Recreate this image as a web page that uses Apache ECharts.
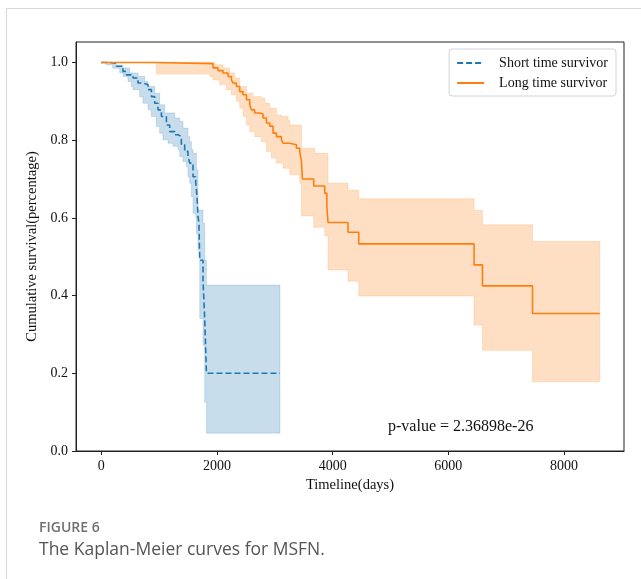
<!DOCTYPE html>
<html>
<head>
<meta charset="utf-8">
<script src="https://cdn.jsdelivr.net/npm/echarts@6/dist/echarts.min.js"></script>
<style>
html,body{margin:0;padding:0;background:#fff;}
#chart{width:641px;height:579px;}
</style>
</head>
<body>
<div id="chart"></div>
<script>
// ---- data ----
const xTicks = [0, 2000, 4000, 6000, 8000];
const yTicks = [0, 0.2, 0.4, 0.6, 0.8, 1.0];
const shortName = 'Short time survivor';
const longName = 'Long time survivor';
const pValueText = 'p-value = 2.36898e-26';
const xTitle = 'Timeline(days)';
const yTitle = 'Cumulative survival(percentage)';
const figLabel = 'FIGURE 6';
const figCaption = 'The Kaplan-Meier curves for MSFN.';

// Kaplan-Meier step points [time, survival] (value holds from time onward)
const shortSurvival = [[0,1.0],[147,0.998],[263,0.99],[377,0.977],[436,0.968],[550,0.96],[636,0.947],[723,0.943],[809,0.93],[868,0.912],[925,0.895],[982,0.878],[1041,0.861],[1127,0.839],[1184,0.822],[1271,0.814],[1328,0.809],[1386,0.788],[1443,0.771],[1500,0.758],[1530,0.741],[1587,0.706],[1634,0.689],[1646,0.672],[1656,0.655],[1673,0.603],[1690,0.587],[1703,0.491],[1760,0.44],[1789,0.34],[1800,0.29],[1819,0.2],[3090,0.2]];
const shortCiUpper = [[0,1.0],[260,0.993],[377,0.986],[493,0.973],[636,0.964],[752,0.951],[809,0.938],[925,0.921],[1011,0.891],[1098,0.87],[1271,0.857],[1357,0.848],[1414,0.831],[1500,0.809],[1530,0.796],[1559,0.775],[1587,0.766],[1646,0.723],[1673,0.62],[1760,0.586],[1789,0.491],[1819,0.427],[3090,0.427]];
const shortCiLower = [[0,1.0],[90,0.994],[200,0.985],[320,0.973],[377,0.964],[463,0.951],[522,0.938],[550,0.93],[665,0.912],[723,0.895],[809,0.878],[868,0.861],[954,0.835],[1011,0.818],[1068,0.801],[1155,0.792],[1241,0.784],[1328,0.775],[1357,0.758],[1414,0.745],[1473,0.732],[1500,0.706],[1530,0.689],[1559,0.655],[1587,0.612],[1634,0.603],[1646,0.56],[1673,0.517],[1703,0.341],[1760,0.272],[1789,0.126],[1819,0.046],[3090,0.046]];

const longSurvival = [[0,1.0],[954,0.997],[1933,0.986],[2019,0.979],[2105,0.973],[2192,0.964],[2251,0.955],[2278,0.947],[2337,0.938],[2394,0.925],[2451,0.917],[2510,0.904],[2567,0.891],[2596,0.878],[2653,0.87],[2740,0.867],[2797,0.857],[2856,0.844],[2913,0.836],[2970,0.818],[3028,0.809],[3115,0.801],[3143,0.792],[3258,0.788],[3374,0.779],[3431,0.771],[3461,0.745],[3470,0.72],[3478,0.70],[3673,0.682],[3863,0.663],[3900,0.63],[3920,0.588],[4266,0.563],[4451,0.533],[6444,0.479],[6589,0.425],[7454,0.354],[8617,0.354]];
const longCiUpper = [[0,1.0],[1962,0.994],[2105,0.986],[2221,0.973],[2308,0.96],[2394,0.938],[2510,0.921],[2624,0.912],[2769,0.908],[2826,0.895],[2913,0.882],[3028,0.865],[3115,0.861],[3229,0.852],[3258,0.839],[3461,0.779],[3690,0.766],[3920,0.689],[4266,0.671],[4451,0.649],[6444,0.619],[6589,0.582],[7454,0.539],[8617,0.539]];
const longCiLower = [[0,1.0],[954,0.97],[1876,0.964],[1933,0.955],[2048,0.943],[2164,0.93],[2251,0.917],[2337,0.9],[2394,0.882],[2451,0.861],[2510,0.839],[2567,0.822],[2653,0.809],[2769,0.796],[2856,0.771],[2942,0.754],[3028,0.741],[3143,0.728],[3258,0.711],[3431,0.689],[3461,0.605],[3673,0.576],[3863,0.554],[3920,0.466],[4266,0.437],[4451,0.399],[6444,0.324],[6589,0.259],[7454,0.178],[8617,0.178]];

// ---- helpers ----
function stepPath(pts) {
  const out = [];
  for (let i = 0; i < pts.length; i++) {
    out.push([pts[i][0], pts[i][1]]);
    if (i + 1 < pts.length) out.push([pts[i + 1][0], pts[i][1]]);
  }
  return out;
}
function bandSeries(upper, lower, fill, stroke) {
  const pathPts = stepPath(upper).concat(stepPath(lower).reverse());
  return {
    type: 'custom',
    coordinateSystem: 'cartesian2d',
    silent: true,
    z: 1,
    data: [[0, 0]],
    renderItem: function (params, api) {
      const pts = pathPts.map(p => api.coord(p));
      return {
        type: 'polygon',
        shape: { points: pts },
        style: { fill: fill, stroke: stroke, lineWidth: 1 }
      };
    }
  };
}

const SERIF = '"Liberation Serif", "DejaVu Serif", serif';
const chart = echarts.init(document.getElementById('chart'), null, { renderer: 'canvas' });

chart.setOption({
  animation: false,
  backgroundColor: '#fff',
  grid: {
    left: 76, right: 17, top: 42, bottom: 128,
    show: true, borderColor: '#222', borderWidth: 1, backgroundColor: 'transparent'
  },
  xAxis: {
    type: 'value',
    min: -435, max: 9035,
    name: xTitle,
    nameLocation: 'middle',
    nameGap: 24,
    nameTextStyle: { fontFamily: SERIF, fontSize: 14.5, color: '#111' },
    axisLine: { show: true, onZero: false, lineStyle: { color: '#222', width: 1 } },
    axisTick: { show: true, inside: false, length: 4, customValues: xTicks, lineStyle: { color: '#222' } },
    axisLabel: { customValues: xTicks, margin: 8, fontFamily: SERIF, fontSize: 14, color: '#111',
      formatter: v => String(v) },
    splitLine: { show: false }
  },
  yAxis: {
    type: 'value',
    min: 0, max: 1.0526,
    name: yTitle,
    nameLocation: 'middle',
    nameGap: 32,
    nameTextStyle: { fontFamily: SERIF, fontSize: 14.5, color: '#111' },
    axisLine: { show: true, onZero: false, lineStyle: { color: '#222', width: 1 } },
    axisTick: { show: true, inside: false, length: 4, customValues: yTicks, lineStyle: { color: '#222' } },
    axisLabel: { customValues: yTicks, margin: 8, fontFamily: SERIF, fontSize: 14, color: '#111',
      formatter: v => v.toFixed(1) },
    splitLine: { show: false }
  },
  legend: {
    data: [shortName, longName],
    orient: 'vertical',
    right: 25, top: 49,
    align: 'left',
    padding: [7, 8, 6, 7],
    itemWidth: 27, itemHeight: 14, itemGap: 6,
    itemStyle: { opacity: 0 },
    backgroundColor: 'rgba(255,255,255,0.85)',
    borderColor: '#d4d4d4', borderWidth: 1, borderRadius: 3,
    textStyle: { fontFamily: SERIF, fontSize: 14, color: '#111', padding: [0, 0, 0, 10] }
  },
  graphic: [
    { type: 'rect', silent: true, shape: { x: 6.5, y: 8.5, width: 700, height: 700 },
      style: { fill: 'none', stroke: '#d6d6d6', lineWidth: 1 }, z: -10 },
    { type: 'text', x: 388, y: 427, style: { text: pValueText, font: '16px ' + SERIF, fill: '#111', verticalAlign: 'middle' } },
    { type: 'text', x: 39, y: 528, style: { text: figLabel, font: '600 14px "Open Sans", "Noto Sans", sans-serif', fill: '#707070', verticalAlign: 'middle' } },
    { type: 'text', x: 39, y: 550, style: { text: figCaption, font: '17.5px "Open Sans", "Noto Sans", sans-serif', fill: '#555', verticalAlign: 'middle' } }
  ],
  series: [
    bandSeries(shortCiUpper, shortCiLower, 'rgba(31,119,180,0.25)', 'rgba(31,119,180,0.18)'),
    bandSeries(longCiUpper, longCiLower, 'rgba(255,127,14,0.25)', 'rgba(255,127,14,0.18)'),
    {
      name: shortName, type: 'line', step: 'end', symbol: 'none', z: 3,
      data: shortSurvival,
      itemStyle: { color: '#1f77b4' },
      lineStyle: { color: '#1f77b4', width: 1.6, type: [6, 3] }
    },
    {
      name: longName, type: 'line', step: 'end', symbol: 'none', z: 3,
      data: longSurvival,
      itemStyle: { color: '#ff7f0e' },
      lineStyle: { color: '#ff7f0e', width: 1.6, type: 'solid' }
    }
  ]
});
</script>
</body>
</html>
